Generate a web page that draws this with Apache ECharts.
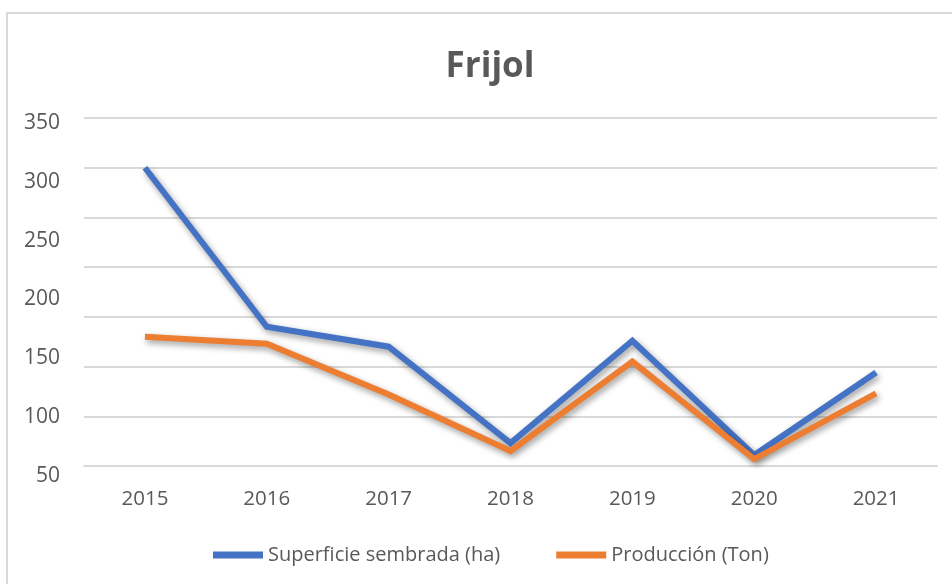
<!DOCTYPE html>
<html>
<head>
<meta charset="utf-8">
<script src="https://cdn.jsdelivr.net/npm/echarts@6/dist/echarts.min.js"></script>
<style>
  html, body { margin: 0; padding: 0; background: #fff; }
  #main { width: 952px; height: 584px; }
</style>
</head>
<body>
<div id="main"></div>
<script>
var years = ['2015', '2016', '2017', '2018', '2019', '2020', '2021'];
var superficie = [300, 140, 120, 23, 126, 11, 94];
var produccion = [130, 123, 72, 15, 105, 7, 73];
var yLabels = [50, 100, 150, 200, 250, 300, 350];

var font = '"Open Sans", "Liberation Sans", sans-serif';
var txt = '#595959';
var shadow = {
  shadowColor: 'rgba(0,0,0,0.4)',
  shadowBlur: 6,
  shadowOffsetX: 2,
  shadowOffsetY: 3
};

var myChart = echarts.init(document.getElementById('main'));
var option = {
  backgroundColor: '#fff',
  title: {
    text: 'Frijol',
    left: 485,
    textAlign: 'center',
    top: 45,
    textStyle: { fontFamily: font, fontSize: 35, fontWeight: 'bold', color: txt }
  },
  graphic: [{
    type: 'rect',
    shape: { x: 7, y: 13, width: 960, height: 600 },
    style: { fill: 'none', stroke: '#d9d9d9', lineWidth: 2 },
    silent: true
  }],
  legend: {
    left: 208,
    top: 540,
    icon: 'rect',
    itemWidth: 50,
    itemHeight: 7,
    itemGap: 56,
    textStyle: { fontFamily: font, fontSize: 20, color: txt },
    data: ['Superficie sembrada (ha)', 'Producción (Ton)']
  },
  grid: [
    { left: 84, right: 15, top: 118, bottom: 118 },
    { left: 84, right: 15, top: 123, bottom: 108 }
  ],
  xAxis: [{
    type: 'category',
    gridIndex: 0,
    data: years,
    boundaryGap: true,
    axisLine: { lineStyle: { color: '#d9d9d9', width: 2 } },
    axisTick: { show: false },
    axisLabel: { fontFamily: font, fontSize: 20.5, color: txt, margin: 23 }
  }, {
    type: 'category',
    gridIndex: 1,
    data: years,
    show: false
  }],
  yAxis: [{
    type: 'value',
    gridIndex: 0,
    min: 0,
    max: 350,
    interval: 50,
    axisLabel: { show: false },
    axisLine: { show: false },
    axisTick: { show: false },
    splitLine: { lineStyle: { color: '#d9d9d9', width: 2 } }
  }, {
    type: 'value',
    gridIndex: 1,
    min: yLabels[0],
    max: yLabels[yLabels.length - 1],
    interval: 50,
    axisLine: { show: false },
    axisTick: { show: false },
    splitLine: { show: false },
    axisLabel: { fontFamily: font, fontSize: 21, color: txt, margin: 24 }
  }],
  series: [{
    name: 'Superficie sembrada (ha)',
    type: 'line',
    xAxisIndex: 0,
    yAxisIndex: 0,
    data: superficie,
    showSymbol: false,
    symbol: 'none',
    itemStyle: { color: '#4472C4' },
    lineStyle: Object.assign({ color: '#4472C4', width: 6, join: 'miter' }, shadow),
    z: 2
  }, {
    name: 'Producción (Ton)',
    type: 'line',
    xAxisIndex: 0,
    yAxisIndex: 0,
    data: produccion,
    showSymbol: false,
    symbol: 'none',
    itemStyle: { color: '#ED7D31' },
    lineStyle: Object.assign({ color: '#ED7D31', width: 6, join: 'miter' }, shadow),
    z: 3
  }],
  animation: false
};
myChart.setOption(option);
</script>
</body>
</html>
